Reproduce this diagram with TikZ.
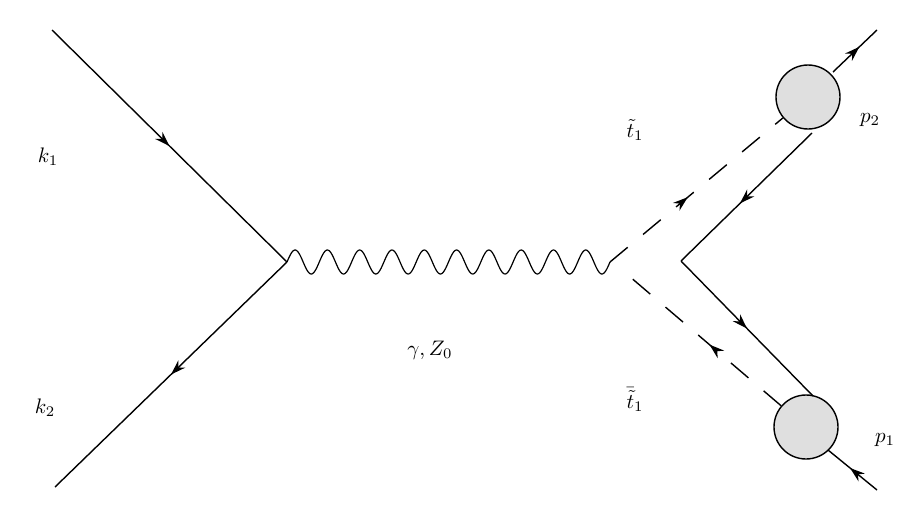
\documentclass[tikz,border=0pt]{standalone}
\usetikzlibrary{decorations.markings,arrows.meta}
\begin{document}
\begin{tikzpicture}[x=1pt,y=-1pt,line width=1.4pt,
  fermion/.style={postaction={decorate},decoration={markings,mark=at position #1 with {\arrow{Stealth[length=15pt,width=10pt]}}}},
  scalar/.style={dash pattern=on 23pt off 20pt},
  blob/.style={circle,draw,fill=gray!25,minimum size=64pt,inner sep=0pt},
  lab/.style={}]
\useasboundingbox (0,0) rectangle (918,514);
\coordinate (a1) at (52,30);
\coordinate (a2) at (55,487);
\coordinate (v1) at (287,262);
\coordinate (v2) at (610,262);
\coordinate (v2b) at (622,270);
\coordinate (q) at (681,261);
\coordinate (s2) at (812,133);
\coordinate (s1) at (813,396);
\coordinate (e2) at (833,72);
\coordinate (e1) at (828,450);
\node[blob] (b2) at (808,97) {};
\node[blob] (b1) at (806,427) {};
\coordinate (o2) at (877,30);
\coordinate (o1) at (877,490);
\draw[fermion=0.5] (a1) -- (v1);
\draw[fermion=0.5] (v1) -- (a2);
\draw[line width=1.2pt] plot[domain=0:323,samples=300,smooth] ({287+\x},{262-12*sin(\x/32.3*360)});
\draw[scalar] (v2) -- (b2);
\draw[scalar] (b1) -- (v2b);
\path[fermion=0.45] (v2) -- (b2);
\path[fermion=0.45] (b1) -- (v2b);
\draw[fermion=0.55] (s2) -- (q);
\draw[fermion=0.5] (q) -- (s1);
\draw[fermion=0.6] (e2) -- (o2);
\draw[fermion=0.55] (o1) -- (e1);
\node[lab] (k1) at (48,157) {\scalebox{2.1}{$k_1$}};
\node[lab] (k2) at (45,408) {\scalebox{2.1}{$k_2$}};
\node[lab] (g) at (430,350) {\scalebox{2.1}{$\gamma,Z_0$}};
\node[lab] (t1) at (635,130) {\scalebox{2.1}{$\tilde t_1$}};
\node[lab] (t2) at (635,400) {\scalebox{2.1}{$\bar{\tilde t}_1$}};
\node[lab] (p2) at (870,120) {\scalebox{2.1}{$p_2$}};
\node[lab] (p1) at (885,440) {\scalebox{2.1}{$p_1$}};
\end{tikzpicture}
\end{document}
